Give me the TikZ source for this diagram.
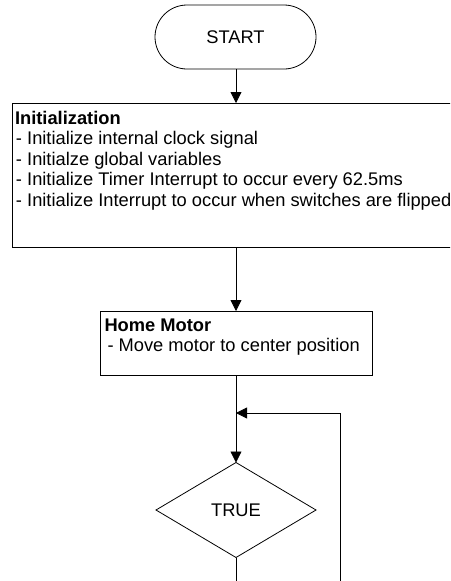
\documentclass[tikz,border=0pt]{standalone}
\usepackage{fontspec}
\setmainfont{Liberation Sans}
\usetikzlibrary{arrows.meta,shapes.geometric}
\begin{document}
\begin{tikzpicture}[x=1pt,y=-1pt,
  line width=0.8pt,
  every node/.style={inner sep=0pt, outer sep=0pt},
  txt/.style={font=\fontsize{18.3}{20.5}\selectfont},
  boxline/.style={draw=black, line width=0.8pt},
  arr/.style={-{Triangle[length=11pt,width=11pt]}}
]
\useasboundingbox (0,0) rectangle (450,581);
\clip (0,0) rectangle (450,581);
% START terminator
\node[boxline, txt, rectangle, rounded corners=32pt, minimum width=161pt, minimum height=64pt] (start) at (235.5,37) {START};
% Initialization box
\node[boxline, rectangle, minimum width=460pt, minimum height=144pt, anchor=north west] (init) at (12,103) {};
\node[txt, anchor=north west, align=left] (inittext) at (15,111) {\textbf{Initialization}\\
\hspace{1pt}- Initialize internal clock signal\\
\hspace{1pt}- Initialze global variables\\
\hspace{1pt}- Initialize Timer Interrupt to occur every 62.5ms\\
\hspace{1pt}- Initialize Interrupt to occur when switches are flipped};
% Home Motor box
\node[boxline, rectangle, minimum width=272pt, minimum height=64pt] (home) at (236,343) {};
\node[txt, anchor=north west, align=left] (hometext) at (104.5,318.8) {\textbf{Home Motor}\\
\hspace{3pt}- Move motor to center position};
% Decision
\node[boxline, txt, diamond, aspect=1.684, minimum width=160pt, minimum height=95pt] (dec) at (236,510) {TRUE};
% loop coordinates
\coordinate (join) at (236,413);
\coordinate (loopR) at (340,413);
\coordinate (loopB) at (340,590);
\coordinate (decB) at (236,590);
% connectors
\draw[arr] (start.south -| 236,0) -- (236,103);
\draw[arr] (init.south -| home.north) -- (home.north);
\draw[arr] (home.south) -- (dec.north);
\draw[arr] (loopB) -- (loopR) -- (join);
\draw (dec.south) -- (decB);
\end{tikzpicture}
\end{document}
